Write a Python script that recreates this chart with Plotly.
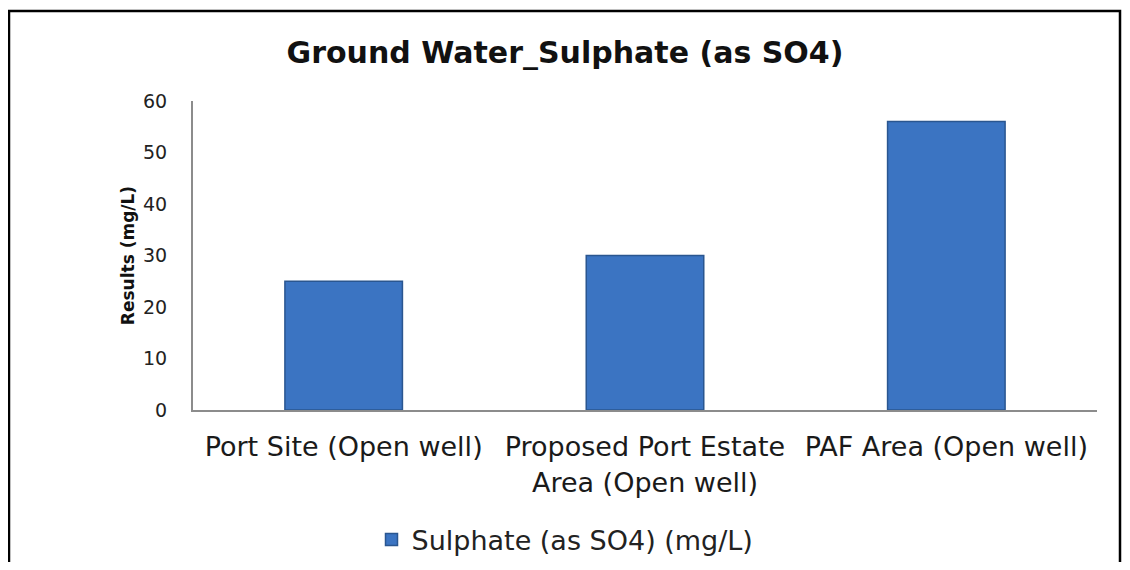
import plotly.graph_objects as go

categories = ['Port Site (Open well)', 'Proposed Port Estate<br>Area (Open well)', 'PAF Area (Open well)']
sulphate = [25, 30, 56]
series_name = 'Sulphate (as SO4) (mg/L)'
title_text = '<b>Ground Water_Sulphate (as SO4)</b>'
ytitle = '<b>Results (mg/L)</b>'

# page body adds an 8px margin, so the figure is a bit smaller than the window
W, H = 1114, 554
L, R, T, B = 185, 25, 93, 152
pw, ph = W - L - R, H - T - B

def px(x):
    # figure pixel column -> paper x
    return (x - L) / pw

def py(y):
    # figure pixel row -> paper y
    return (H - B - y) / ph

fnt = 'Verdana, DejaVu Sans, sans-serif'

fig = go.Figure()
fig.add_trace(go.Bar(x=categories, y=sulphate, name=series_name,
                     marker=dict(color='#3b74c2', line=dict(color='#2a5690', width=1.5))))

fig.update_layout(
    width=W, height=H,
    margin=dict(l=L, r=R, t=T, b=B, autoexpand=False),
    paper_bgcolor='white', plot_bgcolor='white',
    font=dict(family=fnt, color='#222222'),
    title=dict(text=title_text, x=0.5, xref='container', xanchor='center',
               y=1 - 44 / H, yref='container', yanchor='middle',
               font=dict(size=30, color='#111111')),
    bargap=0.61,
    showlegend=True,
    legend=dict(orientation='h', x=px(W / 2), xanchor='center',
                y=py(532), yanchor='middle', bgcolor='rgba(0,0,0,0)',
                font=dict(size=27, color='#222222')),
    xaxis=dict(showline=True, linecolor='#8c8c8c', linewidth=2, showgrid=False,
               ticks='', tickangle=0, ticklabelstandoff=12,
               tickfont=dict(size=27, color='#1a1a1a')),
    yaxis=dict(range=[0, 60], dtick=10, showline=True, linecolor='#8c8c8c', linewidth=2,
               showgrid=False, zeroline=False, ticks='', ticklabelstandoff=20,
               tickfont=dict(size=19, color='#222222'),
               title=dict(text=ytitle, font=dict(size=17, color='#111111'), standoff=4)),
)

# outer chart frame (bottom edge falls outside the picture)
x0, x1 = px(1), px(W - 2)
y0, y1 = py(H + 10), py(3)
fig.add_shape(type='path', xref='paper', yref='paper',
              path=f'M {x0} {y0} L {x0} {y1} L {x1} {y1} L {x1} {y0}',
              line=dict(color='black', width=2.5), layer='above')

fig.write_html('out.html')
